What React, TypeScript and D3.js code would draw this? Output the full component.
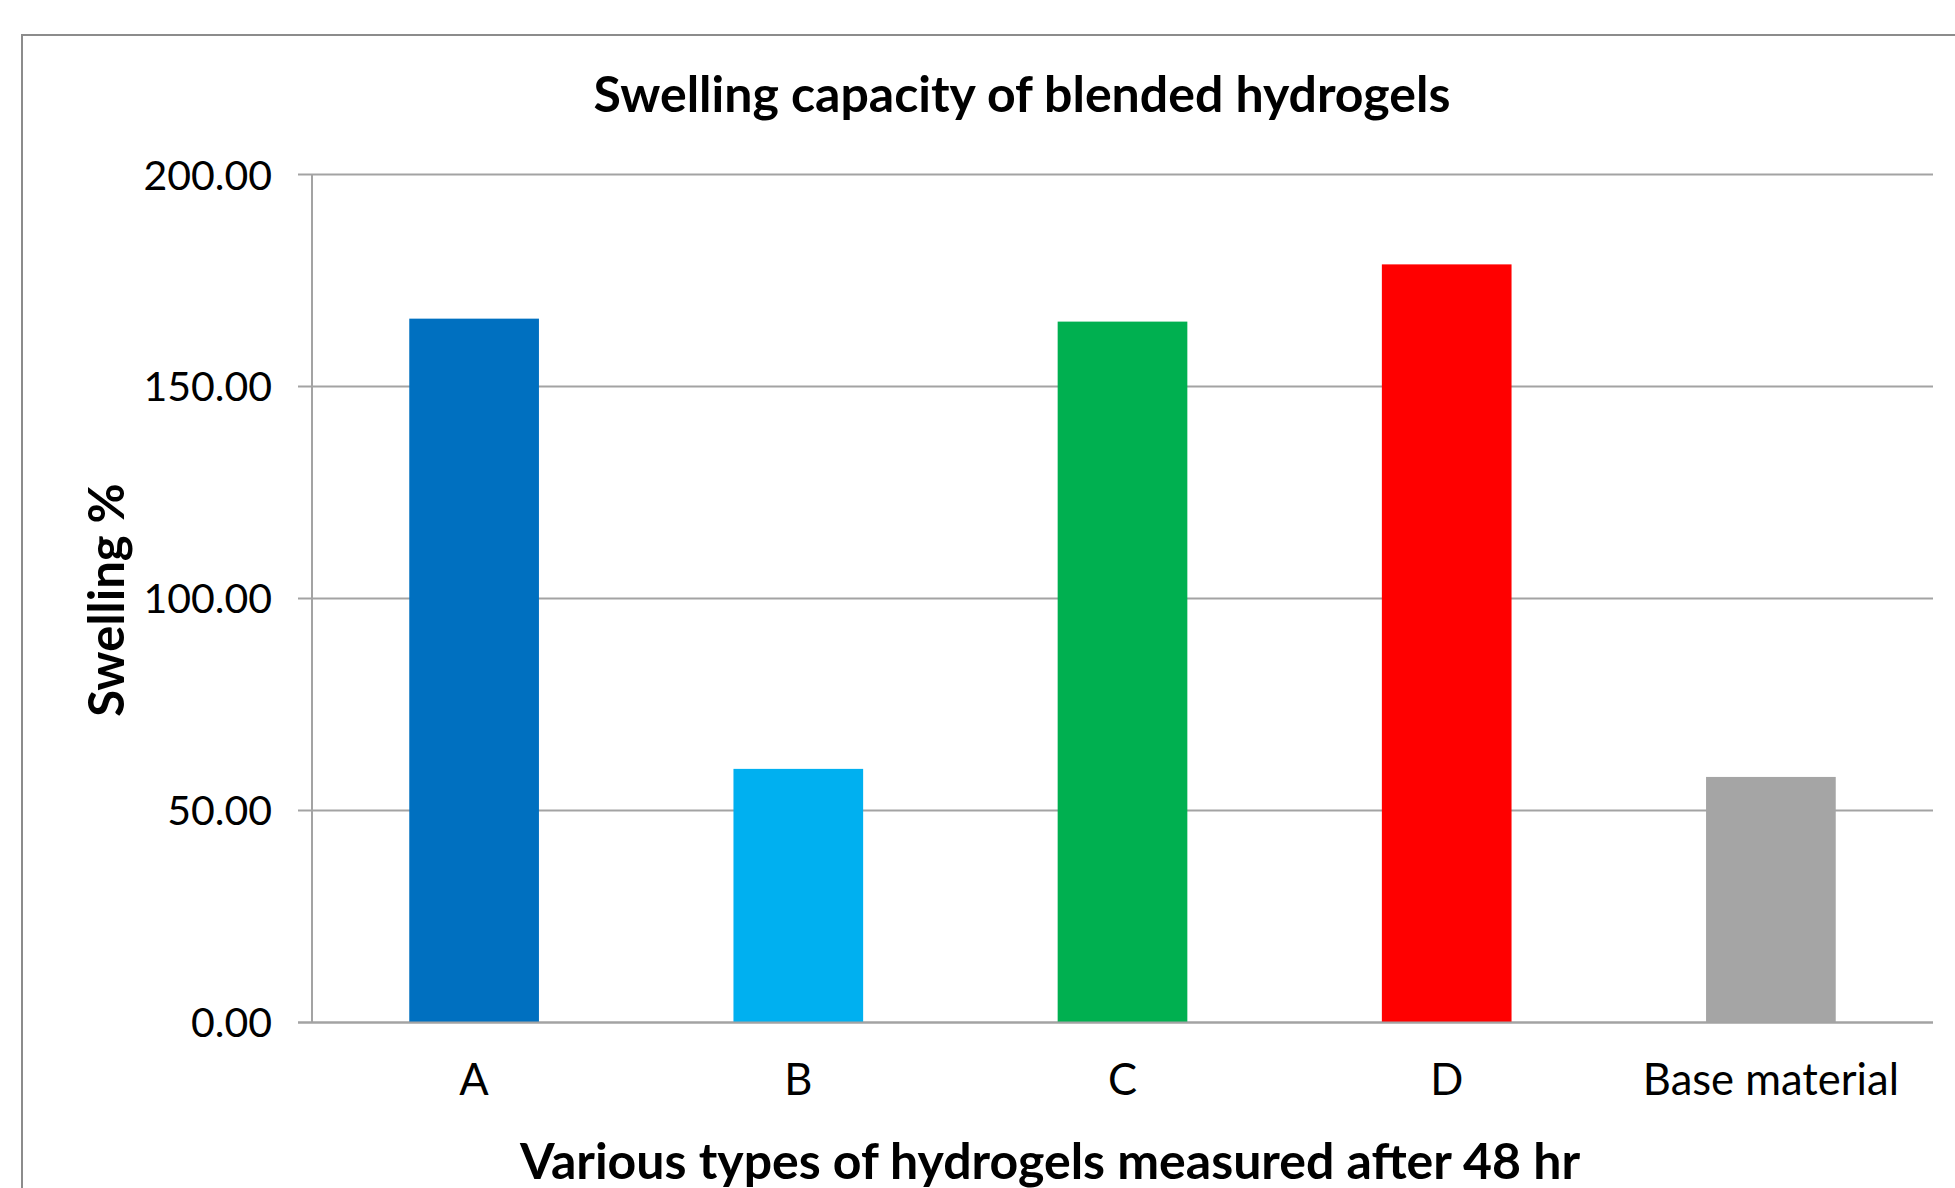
import * as React from 'react';
import * as d3 from 'd3';

const categories = ['A', 'B', 'C', 'D', 'Base material'];
const swelling = [166.0, 59.8, 165.3, 178.8, 57.9];
const barColors = ['#0070C0', '#00B0F0', '#00B050', '#FF0000', '#A5A5A5'];
const yTicks = [0, 50, 100, 150, 200];

const title = 'Swelling capacity of blended hydrogels';
const xTitle = 'Various types of hydrogels measured after 48 hr';
const yTitle = 'Swelling %';

const W = 1955;
const H = 1188;
const FONT = 'Lato, "Open Sans", sans-serif';

export default function App() {
  const ref = React.useRef<SVGSVGElement>(null);

  React.useEffect(() => {
    const svg = d3.select(ref.current);
    svg.selectAll('*').remove();

    const margin = { top: 174.5, right: 22, bottom: 165.6, left: 312 };
    const plotRight = 1933;
    const plotBottom = H - margin.bottom;

    // outer chart border (runs off the right and bottom of the picture)
    svg
      .append('rect')
      .attr('x', 22)
      .attr('y', 35)
      .attr('width', W + 40)
      .attr('height', H + 40)
      .attr('fill', '#fff')
      .attr('stroke', '#8c8c8c')
      .attr('stroke-width', 2);

    const x = d3
      .scaleBand()
      .domain(categories)
      .range([margin.left, plotRight])
      .paddingInner(0.6)
      .paddingOuter(0.3);

    const y = d3.scaleLinear().domain([0, 200]).range([plotBottom, margin.top]);

    // gridlines + tick marks
    svg
      .append('g')
      .selectAll('line')
      .data(yTicks)
      .join('line')
      .attr('x1', margin.left - 14)
      .attr('x2', plotRight)
      .attr('y1', d => y(d))
      .attr('y2', d => y(d))
      .attr('stroke', '#a3a3a3')
      .attr('stroke-width', 2);

    // y axis line
    svg
      .append('line')
      .attr('x1', margin.left)
      .attr('x2', margin.left)
      .attr('y1', y(200))
      .attr('y2', y(0))
      .attr('stroke', '#a3a3a3')
      .attr('stroke-width', 2);

    // bars
    svg
      .append('g')
      .selectAll('rect')
      .data(swelling)
      .join('rect')
      .attr('x', (d, i) => x(categories[i]))
      .attr('y', d => y(d))
      .attr('width', x.bandwidth())
      .attr('height', d => y(0) - y(d))
      .attr('fill', (d, i) => barColors[i]);

    // redraw baseline over bars
    svg
      .append('line')
      .attr('x1', margin.left - 14)
      .attr('x2', plotRight)
      .attr('y1', y(0))
      .attr('y2', y(0))
      .attr('stroke', '#a3a3a3')
      .attr('stroke-width', 2);

    // y tick labels
    svg
      .append('g')
      .selectAll('text')
      .data(yTicks)
      .join('text')
      .attr('x', 272)
      .attr('y', d => y(d) + 15)
      .attr('text-anchor', 'end')
      .attr('font-family', FONT)
      .attr('font-size', 41)
      .attr('fill', '#000')
      .text(d => d3.format('.2f')(d));

    // category labels
    svg
      .append('g')
      .selectAll('text')
      .data(categories)
      .join('text')
      .attr('x', d => x(d) + x.bandwidth() / 2)
      .attr('y', 1095)
      .attr('text-anchor', 'middle')
      .attr('font-family', FONT)
      .attr('font-size', 43.5)
      .attr('fill', '#000')
      .text(d => d);

    svg
      .append('text')
      .attr('x', 1022)
      .attr('y', 112)
      .attr('text-anchor', 'middle')
      .attr('font-family', FONT)
      .attr('font-weight', 'bold')
      .attr('font-size', 50)
      .text(title);

    svg
      .append('text')
      .attr('x', 1050)
      .attr('y', 1179)
      .attr('text-anchor', 'middle')
      .attr('font-family', FONT)
      .attr('font-weight', 'bold')
      .attr('font-size', 50)
      .text(xTitle);

    svg
      .append('text')
      .attr('transform', 'translate(124,600) rotate(-90)')
      .attr('text-anchor', 'middle')
      .attr('font-family', FONT)
      .attr('font-weight', 'bold')
      .attr('font-size', 49)
      .text(yTitle);
  }, []);

  return (
    <svg
      ref={ref}
      width={W}
      height={H}
      style={{ position: 'absolute', left: 0, top: 0, display: 'block', background: '#fff' }}
    />
  );
}
